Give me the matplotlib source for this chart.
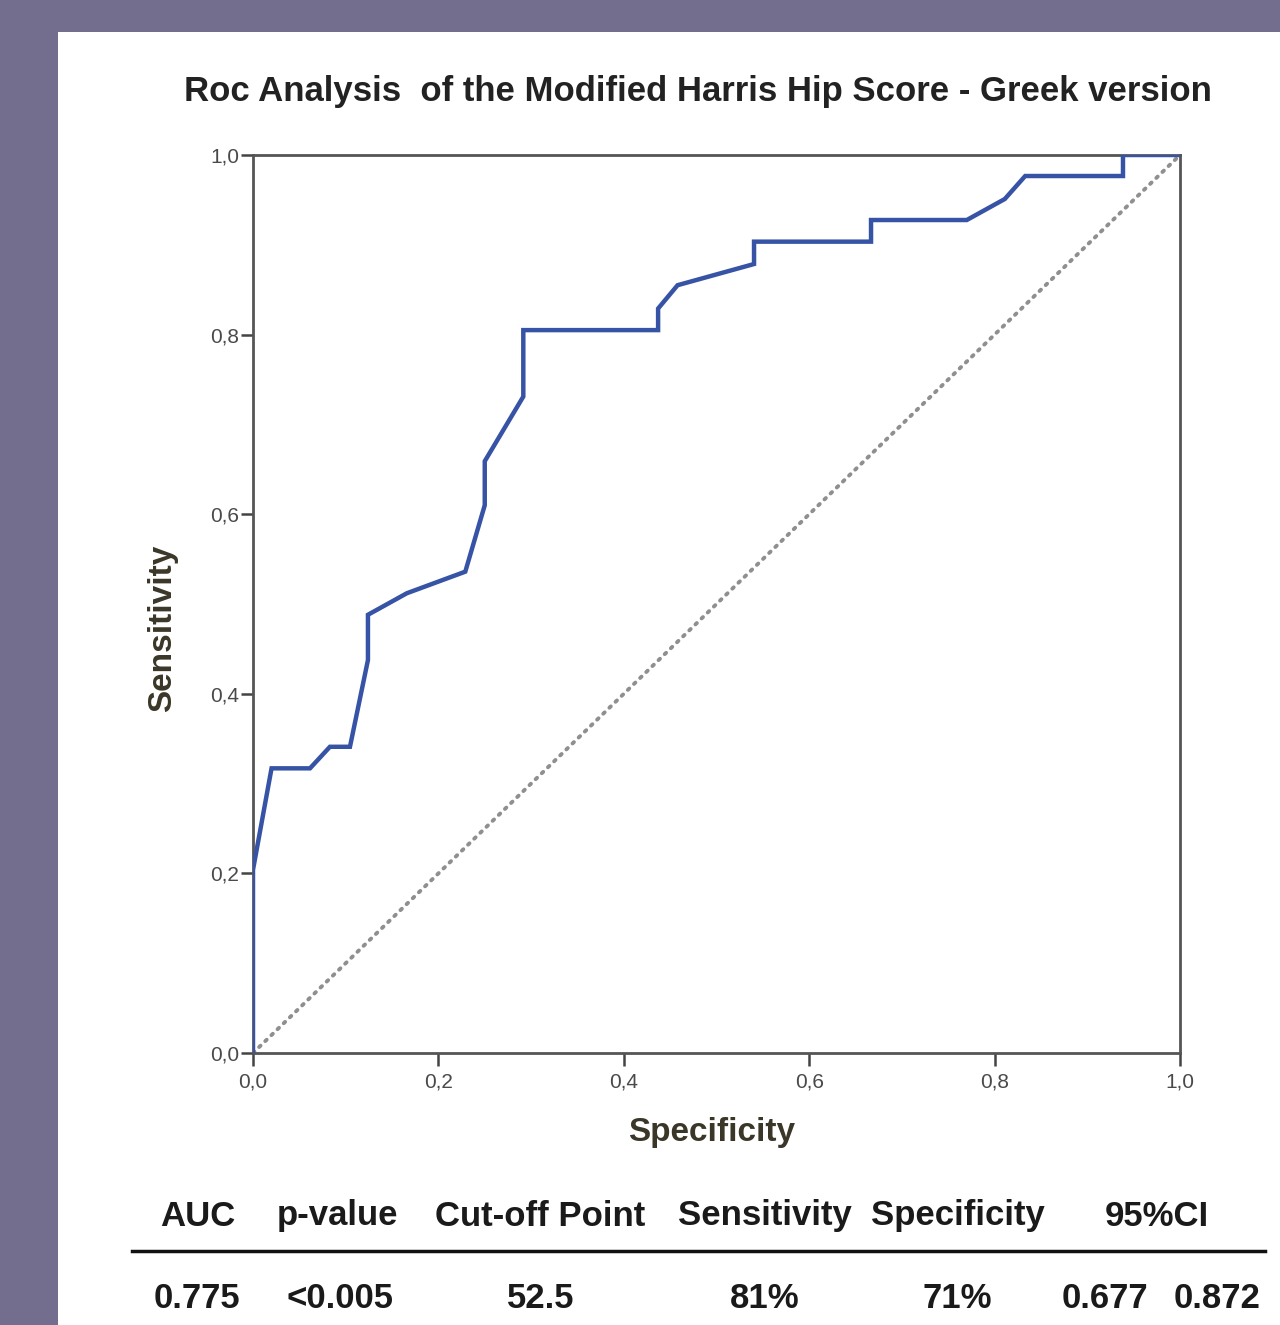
import matplotlib
matplotlib.use("Agg")
import matplotlib.pyplot as plt
from matplotlib.patches import Rectangle

# ROC curve (x = 1 - specificity axis labelled "Specificity")
fpr = [0, 0, 0.020, 0.0615, 0.083, 0.1046, 0.124, 0.124, 0.166, 0.229, 0.250,
       0.250, 0.2916, 0.2916, 0.437, 0.437, 0.458, 0.5405, 0.5405, 0.6667,
       0.6667, 0.770, 0.811, 0.833, 0.9385, 0.9385, 1.0]
tpr = [0, 0.204, 0.317, 0.317, 0.341, 0.341, 0.4376, 0.488, 0.512, 0.536, 0.610,
       0.659, 0.731, 0.805, 0.805, 0.829, 0.855, 0.8786, 0.9035, 0.9035,
       0.9276, 0.9276, 0.951, 0.9766, 0.9766, 1.0, 1.0]

tick_values = [0.0, 0.2, 0.4, 0.6, 0.8, 1.0]
tick_labels = ["0,0", "0,2", "0,4", "0,6", "0,8", "1,0"]

table_headers = ["AUC", "p-value", "Cut-off Point", "Sensitivity", "Specificity", "95%CI"]
table_values = ["0.775", "<0.005", "52.5", "81%", "71%", "0.677", "0.872"]

W, H = 1280, 1325
BG = "#736e8e"
CURVE = "#3653a5"
FONT = ["Liberation Sans", "DejaVu Sans"]


def fx(px):
    return px / W


def fy(py):
    return 1 - py / H


fig = plt.figure(figsize=(W / 100, H / 100), dpi=100, facecolor=BG)
fig.patches.append(Rectangle((fx(58), 0), 1 - fx(58), fy(32), transform=fig.transFigure,
                             facecolor="white", edgecolor="none", zorder=-5))

ax = fig.add_axes([fx(253), fy(1053), fx(1180) - fx(253), fy(155) - fy(1053)])
ax.set_zorder(2)
ax.plot([0, 1], [0, 1], color="#8f8f8f", lw=2.8, linestyle=(0, (0.5, 1.7)),
        dash_capstyle="round", zorder=2)
ax.plot(fpr, tpr, color=CURVE, lw=3.2, solid_joinstyle="miter", zorder=3)

ax.set_xlim(0, 1)
ax.set_ylim(0, 1)
ax.set_xticks(tick_values)
ax.set_yticks(tick_values)
ax.set_xticklabels(tick_labels, fontsize=15, color="#4a4a4a", family=FONT)
ax.set_yticklabels(tick_labels, fontsize=15, color="#4a4a4a", family=FONT)
ax.tick_params(direction="out", length=9, width=1.8, color="#444444", pad=1)
ax.tick_params(axis="x", pad=5)
for s in ax.spines.values():
    s.set_color("#555555")
    s.set_linewidth(2)

fig.text(fx(698), fy(92), "Roc Analysis  of the Modified Harris Hip Score - Greek version",
         ha="center", va="center", fontsize=25, fontweight="bold", color="#222222", family=FONT)
fig.text(fx(712), fy(1133), "Specificity", ha="center", va="center", fontsize=24,
         fontweight="bold", color="#3a3628", family=FONT)
fig.text(fx(163), fy(628), "Sensitivity", ha="center", va="center", rotation=90,
         fontsize=24, fontweight="bold", color="#3a3628", family=FONT)

# summary table under the plot
header_x = [198, 338, 540, 765, 958, 1157]
value_x = [197, 340, 541, 765, 957, 1105, 1217]
for x, t in zip(header_x, table_headers):
    fig.text(fx(x), fy(1216), t, ha="center", va="center", fontsize=25,
             fontweight="bold", color="#1a1a1a", family=FONT)
for x, t in zip(value_x, table_values):
    fig.text(fx(x), fy(1299), t, ha="center", va="center", fontsize=25,
             fontweight="bold", color="#1a1a1a", family=FONT)
fig.add_artist(plt.Line2D([fx(132), fx(1265)], [fy(1251), fy(1251)],
                          transform=fig.transFigure, color="#111111", lw=2.5))

fig.savefig("out.png", dpi=100, facecolor=BG)
